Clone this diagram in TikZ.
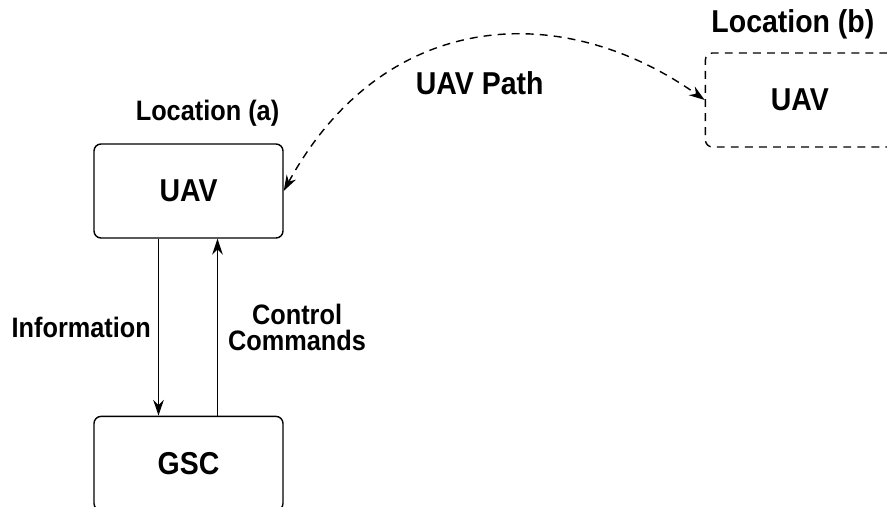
\documentclass[tikz,border=0pt]{standalone}
\usepackage{fontspec}
\setmainfont{Liberation Sans}[FakeStretch=0.9]
\usetikzlibrary{arrows.meta,positioning}

\begin{document}
\begin{tikzpicture}[
	> = {Stealth[length=9pt, width=6pt]}, % arrow head style
	line width = 0.8pt, % line style
	font = \fontsize{16}{15}\selectfont\bfseries,
	Dsh/.style={dash pattern=on 4.5pt off 3.5pt},
	B/.style={rectangle, draw=black, rounded corners=4pt, minimum width=3.78cm, minimum height=1.88cm, font=\fontsize{18}{18}\selectfont\bfseries},  %solid box
	D/.style={B, Dsh},                                                                                 %dashed box
	L/.style={inner sep=0pt, align=center},                                                              %plain text
	]
	\useasboundingbox (0,0) rectangle (17.74,-10.14);

	% Boxes and their relative positions
	\node[B] (A) at (3.77,-3.82) {UAV};
	\node[B] (G) [below = 3.54 of A] {GSC};
	\node[D] (Bb) [right = 8.42 of A, yshift=1.82cm] {UAV};
	% Location labels
	\node[L] (LA) [above = 0.33 of A, xshift=0.38cm] {Location (a)};
	\node[L, font=\fontsize{18}{18}\selectfont\bfseries] (LB) [above = 0.26 of Bb, xshift=-0.14cm] {Location (b)};
	% Paths connecting boxes
	\draw[->] ([xshift=-0.6cm]A.south) -- node[L, left=0.14] (I) {Information} ([xshift=-0.6cm]G.north);
	\draw[->] ([xshift=0.58cm]G.north) -- node[L, right=0.2] (C) {Control\\Commands} ([xshift=0.58cm]A.south);
	\draw[<->, Dsh] (A.east) .. controls +(2.0,3.64) and +(-2.88,2.04) .. node[L, pos=0.5, below=0.63, xshift=0.04cm, font=\fontsize{18}{18}\selectfont\bfseries] (P) {UAV Path} (Bb.west);

\end{tikzpicture}
\end{document}
